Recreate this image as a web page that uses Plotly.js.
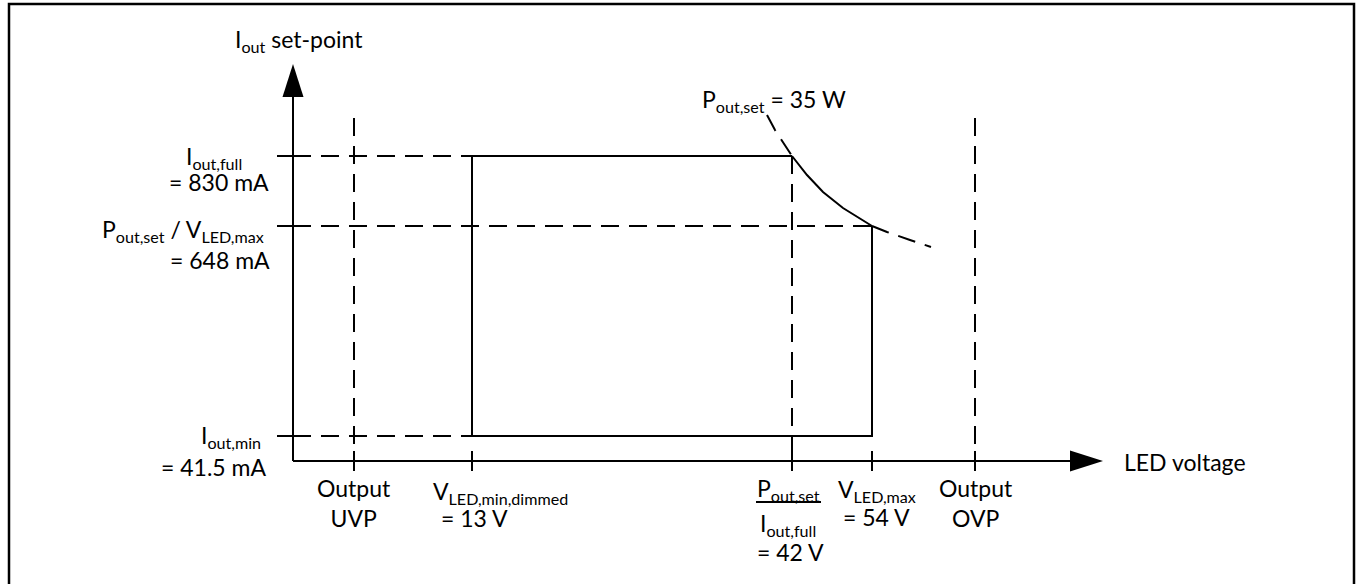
<!DOCTYPE html>
<html><head><meta charset="utf-8">
<script src="https://cdn.plot.ly/plotly-3.0.1.min.js"></script>
<style>html,body{margin:0;padding:0;background:#fff}</style>
</head><body><div id="chart" style="width:1357px;height:584px"></div>
<script>
// Schematic diagram: positions in diagram units (right / up from the axes' origin)
const xLevelLabels = ['Output UVP', 'V_LED,min,dimmed = 13 V', 'P_out,set / I_out,full = 42 V', 'V_LED,max = 54 V', 'Output OVP'];
const xLevelPos = [61, 179, 499, 579, 682];
const yLevelLabels = ['I_out,full = 830 mA', 'P_out,set / V_LED,max = 648 mA', 'I_out,min = 41.5 mA'];
const yLevelPos = [305, 235, 25];
const protectionTop = [343, 343];          // UVP / OVP line tops
const xAxisEnd = [780];
const yAxisEnd = [367];
// P_out,set = 35 W constant-power curve
const curveX = [474, 482, 499, 514, 530, 550, 579, 594, 617, 638];
const curveY = [346, 331, 305, 286, 269, 253, 235, 229, 221, 214];

const BLACK = '#000';
const DASH = '18px,10px';
const LW = 2;
const FONT = {family: 'Lato, Carlito, "Open Sans", sans-serif', size: 23, color: BLACK};

const traces = [];
function line(x, y, dash) {
  traces.push({type: 'scatter', mode: 'lines', x: x, y: y, hoverinfo: 'skip',
    line: {color: BLACK, width: LW, dash: dash || 'solid'}});
}
// axes
line([0, xAxisEnd[0]], [0, 0]);
line([0, 0], [0, yAxisEnd[0]]);
// horizontal dashed guides
line([0, xLevelPos[1]], [yLevelPos[0], yLevelPos[0]], DASH);
line([0, xLevelPos[3]], [yLevelPos[1], yLevelPos[1]], DASH);
line([0, xLevelPos[1]], [yLevelPos[2], yLevelPos[2]], DASH);
// vertical dashed guides
line([xLevelPos[0], xLevelPos[0]], [protectionTop[0], -10], DASH);
line([xLevelPos[4], xLevelPos[4]], [protectionTop[1], -10], DASH);
line([xLevelPos[2], xLevelPos[2]], [yLevelPos[0], -10], DASH);
// operating window (solid)
line([xLevelPos[2], xLevelPos[1], xLevelPos[1], xLevelPos[3], xLevelPos[3]],
     [yLevelPos[0], yLevelPos[0], yLevelPos[2], yLevelPos[2], yLevelPos[1]]);
// constant power curve
line(curveX.slice(0, 3), curveY.slice(0, 3), DASH);
line(curveX.slice(2, 7), curveY.slice(2, 7));
line(curveX.slice(6), curveY.slice(6), DASH);
// tick marks
const tx = [], ty = [];
xLevelPos.forEach(v => { tx.push(v, v, null); ty.push(-10, 10, null); });
line(tx, ty);
const hx = [], hy = [];
yLevelPos.forEach(v => { hx.push(-16, 10, null); hy.push(v, v, null); });
line(hx, hy);
// fraction bar under P_out,set
line([xLevelPos[2] - 36, xLevelPos[2] + 29], [-41, -41]);

const arrowLen = 30, arrowHalf = 10.5;
const shapes = [
  {type: 'path', xref: 'x', yref: 'y', fillcolor: BLACK, line: {width: 0},
   path: `M ${-arrowHalf} ${yAxisEnd[0] - 3} L ${arrowHalf} ${yAxisEnd[0] - 3} L 0 ${yAxisEnd[0] + arrowLen} Z`},
  {type: 'path', xref: 'x', yref: 'y', fillcolor: BLACK, line: {width: 0},
   path: `M ${xAxisEnd[0] - 3} ${-arrowHalf} L ${xAxisEnd[0] - 3} ${arrowHalf} L ${xAxisEnd[0] + arrowLen} 0 Z`},
  {type: 'rect', xref: 'paper', yref: 'paper', x0: 9 / 1357, x1: 1354 / 1357, y0: -0.05, y1: 1 - 4 / 584,
   line: {color: BLACK, width: 2.5}, fillcolor: 'rgba(0,0,0,0)'}
];

function ann(text, x, y, xanchor, yanchor) {
  return {text: text, x: x, y: y, xref: 'x', yref: 'y', showarrow: false,
    xanchor: xanchor || 'center', yanchor: yanchor || 'middle', font: FONT, align: 'center'};
}
const annotations = [
  ann('I<sub>out</sub> set-point', -60, 421, 'left'),
  ann('I<sub>out,full</sub>', -49, 304, 'right'),
  ann('= 830 mA', -22, 279, 'right'),
  ann('P<sub>out,set</sub> / V<sub>LED,max</sub>', -27, 231, 'right'),
  ann('= 648 mA', -21, 201, 'right'),
  ann('I<sub>out,min</sub>', -30, 25, 'right'),
  ann('= 41.5 mA', -25, -6, 'right'),
  ann('Output<br>UVP', xLevelPos[0], -42),
  ann('V<sub>LED,min,dimmed</sub>', xLevelPos[1] + 28, -31),
  ann('= 13 V', xLevelPos[1] + 2, -57),
  ann('P<sub>out,set</sub>', xLevelPos[2] - 4, -28),
  ann('I<sub>out,full</sub>', xLevelPos[2] - 4, -63),
  ann('= 42 V', xLevelPos[2] - 2, -91),
  ann('V<sub>LED,max</sub>', xLevelPos[3] + 5, -29),
  ann('= 54 V', xLevelPos[3] + 4, -56),
  ann('Output<br>OVP', xLevelPos[4] + 1, -42),
  ann('LED voltage', xAxisEnd[0] + 49, -1, 'left'),
  ann('P<sub>out,set</sub> = 35 W', 407, 361, 'left')
];

const layout = {
  width: 1357, height: 584, margin: {l: 0, r: 0, t: 0, b: 0},
  paper_bgcolor: '#fff', plot_bgcolor: '#fff', showlegend: false,
  xaxis: {range: [-293, 1064], visible: false, fixedrange: true},
  yaxis: {range: [-123, 461], visible: false, fixedrange: true},
  shapes: shapes, annotations: annotations
};
Plotly.newPlot('chart', traces, layout, {displayModeBar: false, staticPlot: true});
</script></body></html>
